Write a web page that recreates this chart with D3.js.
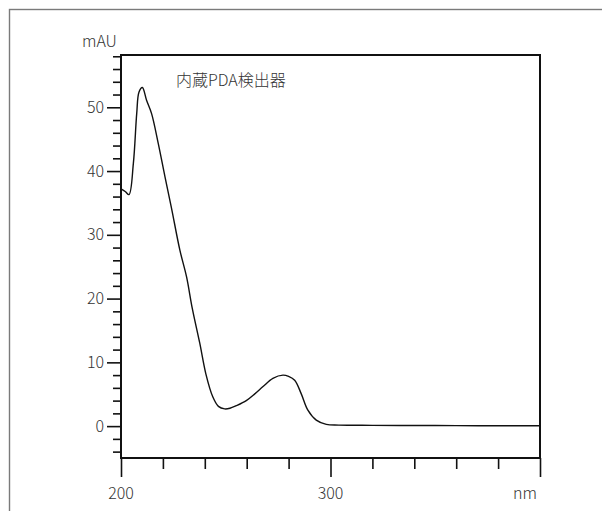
<!DOCTYPE html>
<html>
<head>
<meta charset="utf-8">
<script src="https://d3js.org/d3.v7.min.js"></script>
<style>
    body { margin: 0; background: #fff; }
    text { font-family: "Noto Sans CJK JP", "Noto Sans", sans-serif; font-weight: 300; fill: #333; }
    .line { fill: none; stroke: #111; stroke-width: 1.4px; }
</style>
</head>
<body>
<svg width="602" height="511"></svg>
<script>
    // スペクトルデータ (nm, mAU)
    const wavelength = [200, 202, 203.8, 205.9, 207.5, 208.6, 210.2, 212.2, 214.6, 217.8, 221, 224.1, 228.1,
        231.3, 234, 237.6, 240.5, 243.8, 246.5, 249.5, 252, 255, 259.8, 264, 267.8, 272.5, 277.3,
        280, 282.9, 286, 289.2, 293.2, 298, 304, 320, 340, 360, 380, 400];
    const absorbance = [37.2, 36.8, 36.3, 41.2, 49, 52.4, 53.1, 51.1, 49, 44.3, 39.1, 34.2, 27.6,
        23.4, 18.5, 13, 8.2, 4.6, 3.1, 2.7, 2.8, 3.2, 4.0, 5.1, 6.2, 7.5, 8.0,
        7.8, 7.2, 5.1, 2.5, 0.94, 0.27, 0.16, 0.12, 0.1, 0.08, 0.05, 0.05];
    const xMajor = [200, 300];
    const yMajor = [0, 10, 20, 30, 40, 50];
    const title = "内蔵PDA検出器";

    const margin = {top: 55, right: 62, bottom: 53, left: 121},
          width = 602 - margin.left - margin.right,
          height = 511 - margin.top - margin.bottom;

    const svg = d3.select("svg");

    // 外枠
    svg.append("rect")
        .attr("x", 9.5).attr("y", 9.5)
        .attr("width", 610).attr("height", 520)
        .attr("fill", "none")
        .attr("stroke", "#7a7a7a")
        .attr("stroke-width", 1.4);

    const g = svg.append("g")
        .attr("transform", `translate(${margin.left},${margin.top})`);

    const x = d3.scaleLinear().domain([200, 400]).range([0, width]);
    const y = d3.scaleLinear().domain([-5, 58.2]).range([height, 0]);

    const data = wavelength.map((w, i) => ({w: w, v: absorbance[i]}));

    // x軸の目盛り
    const xTicks = d3.range(200, 401, 20);
    g.append("g")
        .attr("transform", `translate(0,${height})`)
        .call(d3.axisBottom(x).tickValues(xTicks)
            .tickSize(0).tickFormat(""))
        .call(a => a.select(".domain").remove())
        .call(a => a.selectAll(".tick line")
            .attr("stroke", "#111")
            .attr("stroke-width", 1.6)
            .attr("y2", d => (d % 100 === 0 ? 19 : 11)));

    g.selectAll(".xlabel")
        .data(xMajor)
        .enter().append("text")
        .attr("x", d => x(d))
        .attr("y", height + 41)
        .attr("text-anchor", "middle")
        .style("font-size", "16px")
        .text(d => d);

    // y軸の目盛り
    const yTicks = d3.range(-4, 59, 2);
    g.append("g")
        .call(d3.axisLeft(y).tickValues(yTicks)
            .tickSize(0).tickFormat(""))
        .call(a => a.select(".domain").remove())
        .call(a => a.selectAll(".tick line")
            .attr("stroke", "#111")
            .attr("stroke-width", 1.6)
            .attr("x2", d => (d % 10 === 0 ? -14 : -8)));

    g.selectAll(".ylabel")
        .data(yMajor)
        .enter().append("text")
        .attr("x", -17)
        .attr("y", d => y(d))
        .attr("dy", "0.35em")
        .attr("text-anchor", "end")
        .style("font-size", "16px")
        .text(d => d);

    // 枠
    g.append("rect")
        .attr("width", width).attr("height", height)
        .attr("fill", "none")
        .attr("stroke", "#111")
        .attr("stroke-width", 2);

    // スペクトル
    const line = d3.line()
        .x(d => x(d.w))
        .y(d => y(d.v))
        .curve(d3.curveCatmullRom.alpha(0.5));

    g.append("path")
        .datum(data)
        .attr("class", "line")
        .attr("d", line);

    // ラベル
    g.append("text")
        .attr("x", -39).attr("y", -8)
        .style("font-size", "16px")
        .text("mAU");

    g.append("text")
        .attr("x", width - 3).attr("y", height + 41)
        .attr("text-anchor", "end")
        .style("font-size", "16px")
        .text("nm");

    g.append("text")
        .attr("x", 55).attr("y", 31)
        .style("font-size", "16px")
        .text(title);
</script>
</body>
</html>
